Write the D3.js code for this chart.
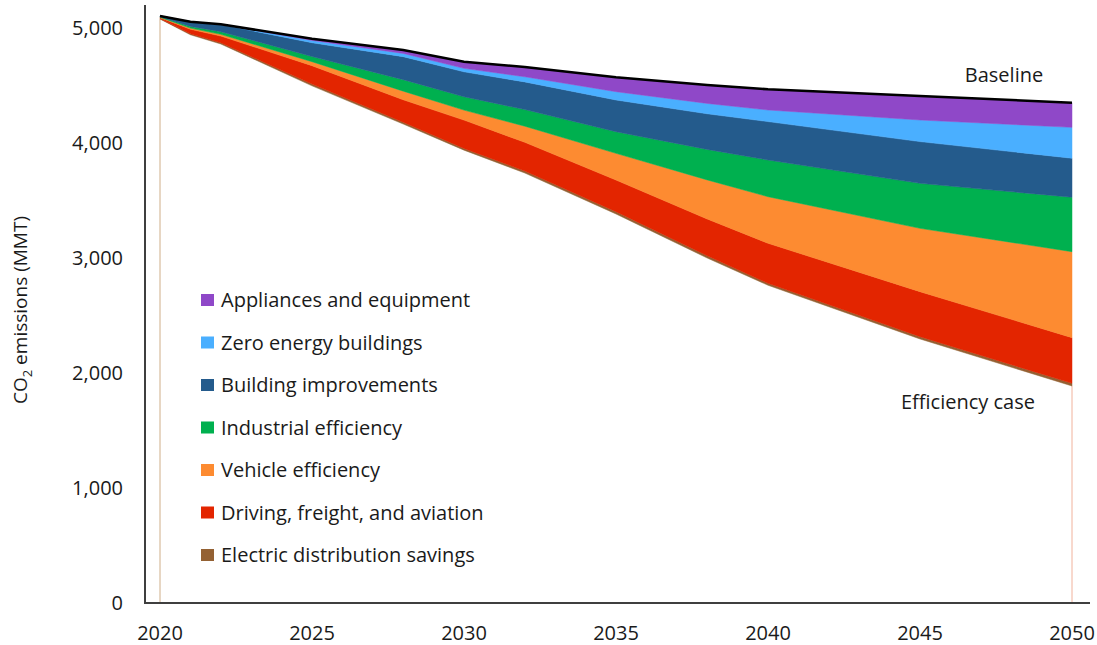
<!DOCTYPE html>
<html>
<head>
<meta charset="utf-8">
<script src="https://cdn.jsdelivr.net/npm/d3@7"></script>
<style>
  body { margin: 0; background: #fff; }
  svg { display: block; font-family: 'Open Sans', sans-serif; }
</style>
</head>
<body>
<script>
// Years (kinks at 2021, 2022, 2028 ...)
const years = [2020, 2021, 2022, 2025, 2028, 2030, 2032, 2035, 2038, 2040, 2045, 2050];

// Efficiency case (white area under the wedges), MMT
const efficiencyCase = [5078, 4941, 4861, 4497, 4165, 3938, 3739, 3383, 3000, 2763, 2296, 1887];

// Savings wedges, bottom to top
const electricDistribution = [4, 8, 11, 15, 16, 15, 17, 20, 19, 17, 20, 23];
const driving = [8, 40, 58, 160, 195, 246, 250, 275, 320, 348, 391, 397];
const vehicle = [3, 10, 15, 35, 75, 87, 140, 232, 340, 405, 551, 748];
const industrial = [4, 15, 23, 45, 100, 116, 145, 188, 265, 319, 391, 473];
const buildingImprovements = [8, 40, 62, 120, 200, 217, 240, 276, 310, 334, 363, 339];
const zeroEnergy = [0, 1, 2, 20, 28, 30, 45, 72, 90, 101, 188, 269];
const appliances = [0, 0, 0, 15, 30, 58, 85, 125, 160, 180, 209, 214];

const seriesNames = [
  'Electric distribution savings',
  'Driving, freight, and aviation',
  'Vehicle efficiency',
  'Industrial efficiency',
  'Building improvements',
  'Zero energy buildings',
  'Appliances and equipment'
];
const seriesColors = ['#946133', '#e32500', '#fd8b31', '#00b04f', '#245b8c', '#4aafff', '#8f48c8'];
const seriesValues = [electricDistribution, driving, vehicle, industrial, buildingImprovements, zeroEnergy, appliances];

const yTicks = [0, 1000, 2000, 3000, 4000, 5000];
const xTicks = [2020, 2025, 2030, 2035, 2040, 2045, 2050];

const W = 1097, H = 645;
const fontSize = '20px';
const textColor = '#1a1a1a';

const svg = d3.select('body').append('svg')
  .attr('width', W)
  .attr('height', H);

const x = d3.scaleLinear().domain([2020, 2050]).range([160, 1072]);
const y = d3.scaleLinear().domain([0, 5200]).range([603, 5]);

// rows for the stack: efficiency first, then wedges
const keys = ['efficiency', ...seriesNames];
const rows = years.map((yr, i) => {
  const r = { year: yr, efficiency: efficiencyCase[i] };
  seriesNames.forEach((n, k) => { r[n] = seriesValues[k][i]; });
  return r;
});
const stacked = d3.stack().keys(keys)(rows);

const area = d3.area()
  .x(d => x(d.data.year))
  .y0(d => y(d[0]))
  .y1(d => y(d[1]));

// thin drop lines at the ends of the efficiency area
svg.append('line')
  .attr('x1', x(2020)).attr('x2', x(2020))
  .attr('y1', y(0)).attr('y2', y(efficiencyCase[0]))
  .attr('stroke', '#cfae88').attr('stroke-width', 1);
svg.append('line')
  .attr('x1', x(2050)).attr('x2', x(2050))
  .attr('y1', y(0)).attr('y2', y(efficiencyCase[efficiencyCase.length - 1]))
  .attr('stroke', '#f1b29c').attr('stroke-width', 1);

svg.append('g')
  .selectAll('path')
  .data(stacked.slice(1))
  .join('path')
  .attr('d', area)
  .attr('fill', (d, i) => seriesColors[i])
  .attr('stroke', (d, i) => seriesColors[i])
  .attr('stroke-width', 0.5);

// baseline = top of the stack
const topLayer = stacked[stacked.length - 1];
svg.append('path')
  .datum(topLayer)
  .attr('d', d3.line().x(d => x(d.data.year)).y(d => y(d[1])))
  .attr('fill', 'none')
  .attr('stroke', '#000')
  .attr('stroke-width', 2.5);

// axes
svg.append('line')
  .attr('x1', 145).attr('x2', 145)
  .attr('y1', y(5200)).attr('y2', y(0))
  .attr('stroke', '#3f3f3f').attr('stroke-width', 2);
svg.append('line')
  .attr('x1', 144).attr('x2', 1090)
  .attr('y1', y(0)).attr('y2', y(0))
  .attr('stroke', '#3f3f3f').attr('stroke-width', 2);

svg.append('g')
  .selectAll('text')
  .data(yTicks)
  .join('text')
  .attr('x', 123)
  .attr('y', d => y(d))
  .attr('dy', '0.35em')
  .attr('text-anchor', 'end')
  .attr('font-size', fontSize)
  .attr('fill', textColor)
  .text(d => d3.format(',')(d));

svg.append('g')
  .selectAll('text')
  .data(xTicks)
  .join('text')
  .attr('x', d => x(d))
  .attr('y', 640)
  .attr('text-anchor', 'middle')
  .attr('font-size', fontSize)
  .attr('fill', textColor)
  .text(d => d);

// y-axis title
const title = svg.append('text')
  .attr('transform', 'translate(27,310) rotate(-90)')
  .attr('text-anchor', 'middle')
  .attr('font-size', '19px')
  .attr('fill', textColor);
title.append('tspan').text('CO');
title.append('tspan').attr('font-size', '13px').attr('dy', 5).text('2');
title.append('tspan').attr('dy', -5).text(' emissions (MMT)');

// legend, top entry = top layer
const legend = svg.append('g')
  .selectAll('g')
  .data(seriesNames.slice().reverse())
  .join('g')
  .attr('transform', (d, i) => `translate(201,${300 + i * 42.5})`);
legend.append('rect')
  .attr('x', 0).attr('y', -6)
  .attr('width', 13).attr('height', 12)
  .attr('fill', d => seriesColors[seriesNames.indexOf(d)]);
legend.append('text')
  .attr('x', 20)
  .attr('dy', '0.35em')
  .attr('font-size', fontSize)
  .attr('fill', textColor)
  .text(d => d);

// series annotations
svg.append('text')
  .attr('x', 1004).attr('y', 75)
  .attr('dy', '0.35em')
  .attr('text-anchor', 'middle')
  .attr('font-size', fontSize)
  .attr('fill', textColor)
  .text('Baseline');
svg.append('text')
  .attr('x', 968).attr('y', 402)
  .attr('dy', '0.35em')
  .attr('text-anchor', 'middle')
  .attr('font-size', fontSize)
  .attr('fill', textColor)
  .text('Efficiency case');
</script>
</body>
</html>
